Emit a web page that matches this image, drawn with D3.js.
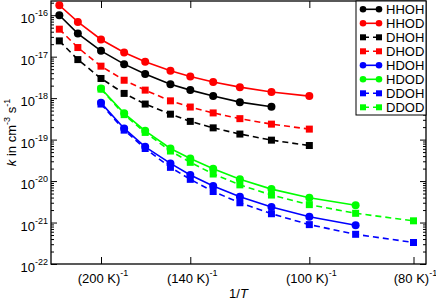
<!DOCTYPE html>
<html>
<head>
<meta charset="utf-8">
<script src="https://cdn.jsdelivr.net/npm/d3@7"></script>
<style>
  body { margin: 0; background: #fff; }
  svg { display: block; font-family: "Liberation Sans", Arial, sans-serif; }
</style>
</head>
<body>
<svg width="436" height="300"></svg>
<script>
// temperatures (K), x is plotted as 1/T
let temps = [250, 225, 200, 180, 165, 150, 140, 130, 120, 110, 100, 90, 80];

let HHOH = [1.0e-16, 3.6e-17, 1.38e-17, 6.6e-18, 3.8e-18, 2.17e-18, 1.56e-18, 1.12e-18, 8.0e-19, 6.2e-19, null, null, null];
let HHOD = [1.74e-16, 6.9e-17, 2.6e-17, 1.26e-17, 7.5e-18, 4.55e-18, 3.33e-18, 2.45e-18, 1.84e-18, 1.40e-18, 1.12e-18, null, null];
let DHOH = [2.4e-17, 8.5e-18, 2.98e-18, 1.30e-18, 7.2e-19, 4.1e-19, 2.75e-19, 1.92e-19, 1.36e-19, 9.7e-20, 7.2e-20, null, null];
let DHOD = [4.6e-17, 1.66e-17, 5.9e-18, 2.7e-18, 1.56e-18, 8.6e-19, 6.1e-19, 4.4e-19, 3.2e-19, 2.36e-19, 1.79e-19, null, null];
let HDOH = [null, null, 7.7e-19, 1.86e-19, 6.7e-20, 2.67e-20, 1.40e-20, 7.6e-21, 4.2e-21, 2.36e-21, 1.38e-21, 8.6e-22, null];
let HDOD = [null, null, 1.71e-18, 4.3e-19, 1.63e-19, 6.1e-20, 3.5e-20, 1.98e-20, 1.10e-20, 6.4e-21, 3.96e-21, 2.6e-21, null];
let DDOH = [null, null, 7.2e-19, 1.69e-19, 6.1e-20, 2.14e-20, 1.10e-20, 5.6e-21, 3.0e-21, 1.63e-21, 8.9e-22, 5.2e-22, 3.3e-22];
let DDOD = [null, null, 1.65e-18, 4.0e-19, 1.49e-19, 5.3e-20, 2.83e-20, 1.48e-20, 8.1e-21, 4.6e-21, 2.7e-21, 1.67e-21, 1.10e-21];

let seriesNames = ["HHOH", "HHOD", "DHOH", "DHOD", "HDOH", "HDOD", "DDOH", "DDOD"];
let seriesValues = [HHOH, HHOD, DHOH, DHOD, HDOH, HDOD, DDOH, DDOD];

let xTickTemps = [200, 140, 100, 80];
let yTickExps = [-22, -21, -20, -19, -18, -17, -16];

let colors = {HHOH: "#000", HHOD: "#ff0000", DHOH: "#000", DHOD: "#ff0000",
              HDOH: "#0000ff", HDOD: "#00ff00", DDOH: "#0000ff", DDOD: "#00ff00"};

let plotLeft = 51, plotRight = 426, plotTop = 1, plotBottom = 264;

let svg = d3.select("svg");

let xScale = d3.scaleLinear().domain([0.0038, 0.0128]).range([plotLeft, plotRight]);
let yScale = d3.scaleLog().domain([1e-22, 2.2e-16]).range([plotBottom, plotTop]);

// minor ticks for log axis
let minorTicks = [];
yTickExps.forEach(e => {
  for (let m = 2; m <= 9; m++) {
    let v = m * Math.pow(10, e);
    if (v < 2.2e-16) minorTicks.push(v);
  }
});
let majorTicks = yTickExps.map(e => Math.pow(10, e));
let xTicks = xTickTemps.map(t => 1 / t);

// axes: ticks pointing inward
let g = svg.append("g");

g.append("g").attr("transform", "translate(" + plotLeft + ",0)")
  .call(d3.axisRight(yScale).tickValues(majorTicks).tickSize(6).tickFormat(""));
g.append("g").attr("transform", "translate(" + plotLeft + ",0)")
  .call(d3.axisRight(yScale).tickValues(minorTicks).tickSize(3).tickFormat(""));
g.append("g").attr("transform", "translate(" + plotRight + ",0)")
  .call(d3.axisLeft(yScale).tickValues(majorTicks).tickSize(6).tickFormat(""));
g.append("g").attr("transform", "translate(" + plotRight + ",0)")
  .call(d3.axisLeft(yScale).tickValues(minorTicks).tickSize(3).tickFormat(""));
g.append("g").attr("transform", "translate(0," + plotBottom + ")")
  .call(d3.axisTop(xScale).tickValues(xTicks).tickSize(7).tickFormat(""));
g.append("g").attr("transform", "translate(0," + plotTop + ")")
  .call(d3.axisBottom(xScale).tickValues(xTicks).tickSize(7).tickFormat(""));

g.selectAll(".domain").remove();
g.selectAll(".tick line").attr("stroke", "#000").attr("stroke-width", 1);

// frame
svg.append("rect")
  .attr("x", plotLeft).attr("y", plotTop)
  .attr("width", plotRight - plotLeft).attr("height", plotBottom - plotTop)
  .attr("fill", "none").attr("stroke", "#000").attr("stroke-width", 1.3);

// y tick labels
yTickExps.forEach(e => {
  let t = svg.append("text")
    .attr("x", 48).attr("y", yScale(Math.pow(10, e)) + 8)
    .attr("text-anchor", "end")
    .attr("font-size", 13);
  t.append("tspan").text("10");
  t.append("tspan").attr("dy", -7).attr("font-size", 9).text(String(e));
});

// x tick labels
xTickTemps.forEach(T => {
  let t = svg.append("text")
    .attr("x", xScale(1 / T) + 2).attr("y", 283)
    .attr("text-anchor", "middle")
    .attr("font-size", 13);
  t.append("tspan").text("(" + T + " K)");
  t.append("tspan").attr("dy", -7).attr("font-size", 9).text("-1");
});

// axis titles
let xt = svg.append("text")
  .attr("x", (plotLeft + plotRight) / 2).attr("y", 297.5)
  .attr("text-anchor", "middle").attr("font-size", 13);
xt.append("tspan").text("1/");
xt.append("tspan").attr("font-style", "italic").text("T");

let yt = svg.append("text")
  .attr("transform", "translate(16," + ((plotTop + plotBottom) / 2) + ") rotate(-90)")
  .attr("text-anchor", "middle").attr("font-size", 13);
yt.append("tspan").attr("font-style", "italic").text("k");
yt.append("tspan").text(" in cm");
yt.append("tspan").attr("dy", -6).attr("font-size", 9).text("-3");
yt.append("tspan").attr("dy", 6).text(" s");
yt.append("tspan").attr("dy", -6).attr("font-size", 9).text("-1");

// series
let line = d3.line()
  .defined(d => d.v !== null)
  .x(d => xScale(1 / d.T))
  .y(d => yScale(d.v));

seriesNames.forEach((name, i) => {
  let pts = temps.map((T, j) => ({T: T, v: seriesValues[i][j]}));
  let isSquare = name.startsWith("D");
  let c = colors[name];
  let sg = svg.append("g");
  sg.append("path")
    .datum(pts)
    .attr("d", line)
    .attr("fill", "none")
    .attr("stroke", c)
    .attr("stroke-width", 1.6)
    .attr("stroke-dasharray", isSquare ? "6,4" : null);
  let good = pts.filter(d => d.v !== null);
  if (isSquare) {
    sg.selectAll("rect").data(good).enter().append("rect")
      .attr("x", d => xScale(1 / d.T) - 3.5)
      .attr("y", d => yScale(d.v) - 3.5)
      .attr("width", 7).attr("height", 7)
      .attr("fill", c);
  } else {
    sg.selectAll("circle").data(good).enter().append("circle")
      .attr("cx", d => xScale(1 / d.T))
      .attr("cy", d => yScale(d.v))
      .attr("r", 4)
      .attr("fill", c);
  }
});

// legend
let lg = svg.append("g");
lg.append("rect")
  .attr("x", 356).attr("y", plotTop)
  .attr("width", plotRight - 356).attr("height", 114)
  .attr("fill", "#fff").attr("stroke", "#000").attr("stroke-width", 1);

seriesNames.forEach((name, i) => {
  let y = 9.3 + i * 14;
  let c = colors[name];
  let isSquare = name.startsWith("D");
  let row = lg.append("g");
  row.append("line")
    .attr("x1", 363).attr("x2", 379).attr("y1", y).attr("y2", y)
    .attr("stroke", c).attr("stroke-width", 1.6)
    .attr("stroke-dasharray", isSquare ? "6,4" : null);
  [363, 379].forEach(x => {
    if (isSquare) {
      row.append("rect").attr("x", x - 3).attr("y", y - 3)
        .attr("width", 6).attr("height", 6).attr("fill", c);
    } else {
      row.append("circle").attr("cx", x).attr("cy", y).attr("r", 3.3).attr("fill", c);
    }
  });
  row.append("text")
    .attr("x", 386).attr("y", y + 4.7)
    .attr("font-size", 13)
    .text(name);
});
</script>
</body>
</html>
